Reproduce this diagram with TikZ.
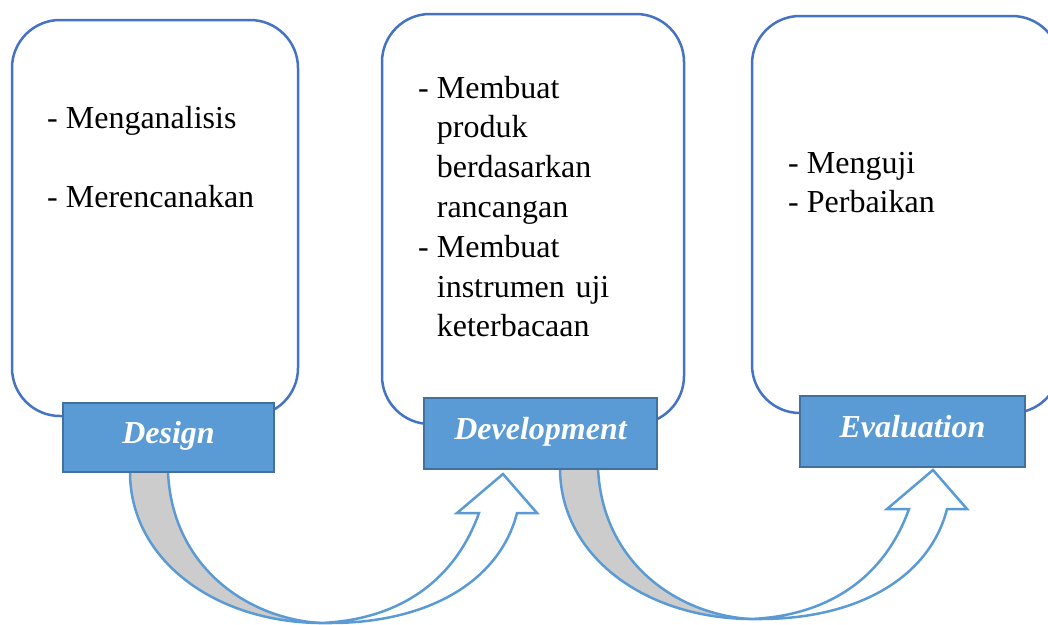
\documentclass[tikz,border=0pt]{standalone}
\usepackage{fontspec}
\setmainfont{Liberation Serif}
\usepackage{xcolor}
\usepackage{tikz}
\usetikzlibrary{positioning}
\definecolor{boxblue}{RGB}{68,114,196}
\definecolor{labelfill}{RGB}{91,155,213}
\definecolor{labeledge}{RGB}{65,113,156}
\definecolor{backgray}{RGB}{204,204,204}
\newcommand{\itemdash}{-\hspace{8pt}}
\newcommand{\itempad}{\hphantom{\itemdash}}

\begin{document}
\begin{tikzpicture}[x=1pt,y=-1pt,
  stagebox/.style={draw=boxblue,line width=2.5pt,rounded corners=48pt,inner sep=0pt},
  stagelabel/.style={draw=labeledge,line width=2.5pt,fill=labelfill,text=white,inner sep=0pt,
    font=\fontsize{32}{38}\selectfont\bfseries\itshape,text height=20pt,text depth=9pt},
  steps/.style={anchor=base west,inner sep=0pt,text width=250pt,align=left,
    font=\fontsize{32}{39.8}\selectfont},
  curl/.style={draw=labelfill,line width=2.5pt}]
  \useasboundingbox (0,0) rectangle (1048,624);
  % the three rounded panels
  \foreach \name/\x/\y/\w/\h in {Design/155/218/286pt/396pt,Development/533/219/302pt/410pt,Evaluation/906/214.5/308pt/397pt}{
    \node[stagebox,minimum width=\w,minimum height=\h] (b\name) at (\x,\y) {};
  }
  % curved block arrows, drawn before the labels
  \foreach \dx/\dy in {0/0,430/-4}{
    \begin{scope}[shift={(\dx,\dy)}]
      \fill[backgray] (130,472) .. controls (130,560) and (215,622) .. (320,623)
        .. controls (245,618) and (172,565) .. (168,472) -- cycle;
      \draw[curl] (130,472) .. controls (130,560) and (215,622) .. (320,623);
      \draw[curl] (168,472) .. controls (172,565) and (245,618) .. (320,623);
      \filldraw[curl,fill=white] (320,623) .. controls (400,620) and (455,580) .. (479,513)
        -- (457,513) -- (503,474) -- (537,513) -- (517,513)
        .. controls (500,580) and (430,623) .. (330,623) -- cycle;
    \end{scope}
  }
  \foreach \name/\x/\y/\w/\h in {Design/168.5/437.5/211pt/69pt,Development/540.5/433.5/233pt/71pt,Evaluation/912.5/431.5/225pt/71pt}{
    \node[stagelabel,minimum width=\w,minimum height=\h] (l\name) at (\x,\y) {\name};
  }
  % panel texts
  \node[steps] (tDesign) at (47,128) {\itemdash Menganalisis\\[39.8pt]\itemdash Merencanakan};
  \node[steps] (tDevelopment) at (418,98) {\itemdash Membuat\\\itempad produk\\\itempad berdasarkan\\\itempad rancangan\\\itemdash Membuat\\\itempad instrumen uji\\\itempad keterbacaan};
  \node[steps] (tEvaluation) at (788,173) {\itemdash Menguji\\\itemdash Perbaikan};
\end{tikzpicture}
\end{document}
